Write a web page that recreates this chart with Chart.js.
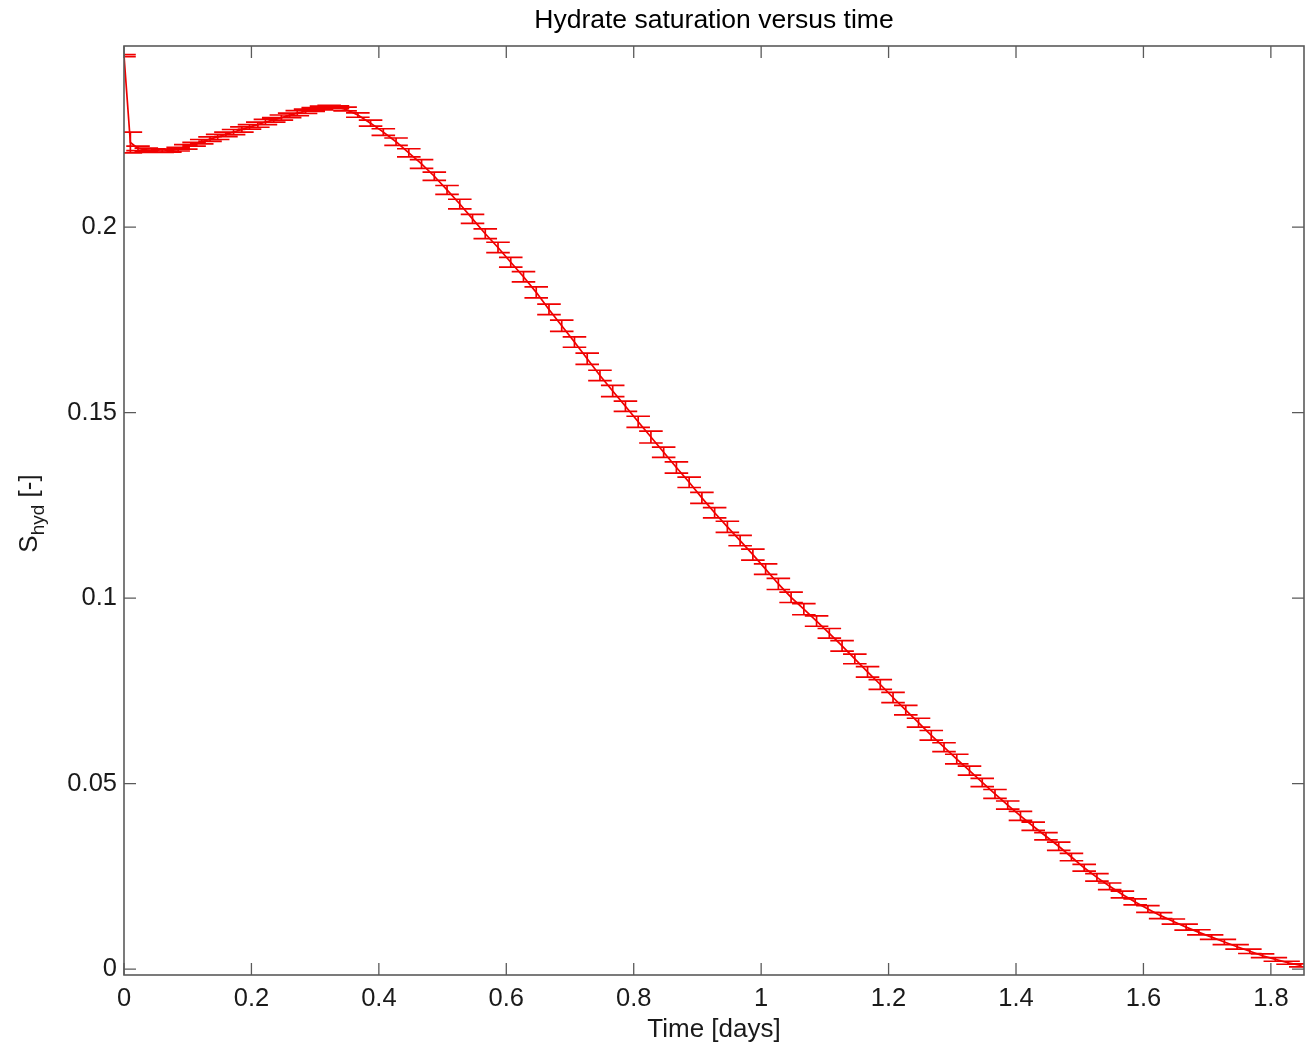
<!DOCTYPE html>
<html>
<head>
<meta charset="utf-8">
<script src="https://cdn.jsdelivr.net/npm/chart.js@4.4.1/dist/chart.umd.min.js"></script>
<style>
html,body{margin:0;padding:0;background:#ffffff;}
#c{display:block;}
</style>
</head>
<body>
<canvas id="c" width="1310" height="1053"></canvas>
<script>
// ---------------- DATA ----------------
const timeDays = [
  0.000, 0.010, 0.022, 0.035, 0.047, 0.060, 0.072, 0.085, 0.097, 0.110,
  0.122, 0.135, 0.147, 0.160, 0.172, 0.185, 0.197, 0.210, 0.222, 0.235,
  0.247, 0.260, 0.272, 0.285, 0.297, 0.310, 0.322, 0.335, 0.347,
  0.367, 0.387, 0.407, 0.427, 0.447, 0.467, 0.487, 0.507, 0.527, 0.547,
  0.567, 0.587, 0.607, 0.627, 0.647, 0.667, 0.687, 0.707, 0.727, 0.747,
  0.767, 0.787, 0.807, 0.827, 0.847, 0.867, 0.887, 0.907, 0.927, 0.947,
  0.967, 0.987, 1.007, 1.027, 1.047, 1.067, 1.087, 1.107, 1.127, 1.147,
  1.167, 1.187, 1.207, 1.227, 1.247, 1.267, 1.287, 1.307, 1.327, 1.347,
  1.367, 1.387, 1.407, 1.427, 1.447, 1.467, 1.487, 1.507, 1.527, 1.547,
  1.567, 1.587, 1.607, 1.627, 1.647, 1.667, 1.687, 1.707, 1.727, 1.747,
  1.767, 1.787, 1.807, 1.827, 1.847
];
const saturation = [
  0.2462, 0.2228, 0.2212, 0.2208, 0.2206, 0.2205, 0.2206, 0.2210, 0.2216, 0.2223,
  0.2230, 0.2237, 0.2243, 0.2250, 0.2256, 0.2263, 0.2270, 0.2276, 0.2283, 0.2289,
  0.2295, 0.2301, 0.2307, 0.2312, 0.2317, 0.2321, 0.2324, 0.2323, 0.2318,
  0.2302, 0.2280, 0.2256, 0.2230, 0.2200, 0.2170, 0.2137, 0.2100, 0.2062, 0.2022,
  0.1982, 0.1945, 0.1905, 0.1866, 0.1824, 0.1778, 0.1734, 0.1690, 0.1645, 0.1600,
  0.1558, 0.1517, 0.1475, 0.1434, 0.1393, 0.1352, 0.1312, 0.1270, 0.1230, 0.1192,
  0.1155, 0.1117, 0.1078, 0.1038, 0.1002, 0.0970, 0.0938, 0.0905, 0.0871, 0.0836,
  0.0801, 0.0767, 0.0732, 0.0698, 0.0664, 0.0630, 0.0598, 0.0566, 0.0535, 0.0503,
  0.0472, 0.0442, 0.0413, 0.0385, 0.0358, 0.0331, 0.0302, 0.0273, 0.0247, 0.0223,
  0.0201, 0.0181, 0.0162, 0.0144, 0.0128, 0.0113, 0.0099, 0.0086, 0.0073, 0.0060,
  0.0048, 0.0036, 0.0026, 0.0017, 0.0010
];
const satError = [
  0.0003, 0.0028, 0.0006, 0.0005, 0.0005, 0.0004, 0.0004, 0.0005, 0.0006, 0.0005,
  0.0006, 0.0006, 0.0007, 0.0006, 0.0007, 0.0007, 0.0006, 0.0007, 0.0007, 0.0006,
  0.0007, 0.0006, 0.0007, 0.0006, 0.0005, 0.0005, 0.0004, 0.0004, 0.0005,
  0.0006, 0.0008, 0.0009, 0.0010, 0.0011, 0.0012, 0.0011, 0.0012, 0.0013, 0.0012,
  0.0013, 0.0014, 0.0013, 0.0014, 0.0015, 0.0014, 0.0015, 0.0014, 0.0015, 0.0014,
  0.0015, 0.0014, 0.0015, 0.0016, 0.0014, 0.0015, 0.0014, 0.0015, 0.0014, 0.0015,
  0.0014, 0.0015, 0.0014, 0.0015, 0.0014, 0.0015, 0.0014, 0.0013, 0.0014, 0.0013,
  0.0014, 0.0013, 0.0014, 0.0013, 0.0012, 0.0013, 0.0012, 0.0013, 0.0012, 0.0011,
  0.0012, 0.0011, 0.0012, 0.0011, 0.0010, 0.0011, 0.0010, 0.0009, 0.0010, 0.0009,
  0.0009, 0.0008, 0.0009, 0.0008, 0.0007, 0.0008, 0.0007, 0.0006, 0.0007, 0.0006,
  0.0006, 0.0005, 0.0005, 0.0004, 0.0004
];
const xTickValues = [0, 0.2, 0.4, 0.6, 0.8, 1, 1.2, 1.4, 1.6, 1.8];
const yTickValues = [0, 0.05, 0.1, 0.15, 0.2];
const xRange = [0, 1.852];
const yRange = [-0.0016, 0.2488];
const chartTitle = 'Hydrate saturation versus time';
const xAxisTitle = 'Time [days]';
const yAxisTitleMain = 'S';
const yAxisTitleSub = 'hyd';
const yAxisTitleUnit = ' [-]';

// ---------------- STYLE ----------------
const FONT = "'Liberation Sans', Arial, Helvetica, sans-serif";
const RED = '#f00000';
const AXIS_COLOR = '#5a5a5a';
const TEXT_COLOR = '#1a1a1a';
const CAP_HALF_WIDTH = 0.0185; // errorbar cap half width in x units
const TICK_LEN = 12;

const points = timeDays.map((t, i) => ({ x: t, y: saturation[i] }));

const errorBarPlugin = {
  id: 'errorBars',
  afterDatasetsDraw(chart) {
    const { ctx, chartArea, scales } = chart;
    const xs = scales.x, ys = scales.y;
    ctx.save();
    ctx.beginPath();
    ctx.rect(chartArea.left, chartArea.top, chartArea.right - chartArea.left, chartArea.bottom - chartArea.top);
    ctx.clip();
    ctx.strokeStyle = RED;
    ctx.lineWidth = 1.7;
    ctx.beginPath();
    for (let i = 0; i < timeDays.length; i++) {
      const x = xs.getPixelForValue(timeDays[i]);
      const xl = xs.getPixelForValue(timeDays[i] - CAP_HALF_WIDTH);
      const xr = xs.getPixelForValue(timeDays[i] + CAP_HALF_WIDTH);
      const yt = ys.getPixelForValue(saturation[i] + satError[i]);
      const yb = ys.getPixelForValue(saturation[i] - satError[i]);
      ctx.moveTo(x, yt); ctx.lineTo(x, yb);
      ctx.moveTo(xl, yt); ctx.lineTo(xr, yt);
      ctx.moveTo(xl, yb); ctx.lineTo(xr, yb);
    }
    ctx.stroke();
    ctx.restore();
  }
};

const axesBoxPlugin = {
  id: 'axesBox',
  afterDraw(chart) {
    const { ctx, chartArea, scales } = chart;
    const { left, right, top, bottom } = chartArea;
    ctx.save();
    ctx.strokeStyle = AXIS_COLOR;
    ctx.lineWidth = 1.6;
    ctx.strokeRect(left, top, right - left, bottom - top);
    ctx.beginPath();
    xTickValues.forEach(v => {
      const px = scales.x.getPixelForValue(v);
      ctx.moveTo(px, bottom); ctx.lineTo(px, bottom - TICK_LEN);
      ctx.moveTo(px, top); ctx.lineTo(px, top + TICK_LEN);
    });
    yTickValues.forEach(v => {
      const py = scales.y.getPixelForValue(v);
      ctx.moveTo(left, py); ctx.lineTo(left + TICK_LEN, py);
      ctx.moveTo(right, py); ctx.lineTo(right - TICK_LEN, py);
    });
    ctx.lineWidth = 1.3;
    ctx.stroke();

    // y axis title with subscript
    const mainFont = '26px ' + FONT;
    const subFont = '19px ' + FONT;
    ctx.font = mainFont;
    const wS = ctx.measureText(yAxisTitleMain).width;
    const wU = ctx.measureText(yAxisTitleUnit).width;
    ctx.font = subFont;
    const wSub = ctx.measureText(yAxisTitleSub).width;
    const total = wS + wSub + wU;
    const cy = (top + bottom) / 2 + 3;
    ctx.translate(37, cy);
    ctx.rotate(-Math.PI / 2);
    ctx.fillStyle = TEXT_COLOR;
    ctx.textBaseline = 'alphabetic';
    ctx.textAlign = 'left';
    let xpos = -total / 2;
    ctx.font = mainFont;
    ctx.fillText(yAxisTitleMain, xpos, 0);
    xpos += wS;
    ctx.font = subFont;
    ctx.fillText(yAxisTitleSub, xpos, 7);
    xpos += wSub;
    ctx.font = mainFont;
    ctx.fillText(yAxisTitleUnit, xpos, 0);
    ctx.restore();
  }
};

new Chart(document.getElementById('c'), {
  type: 'scatter',
  data: {
    datasets: [{
      data: points,
      showLine: true,
      borderColor: RED,
      backgroundColor: RED,
      borderWidth: 1.7,
      pointRadius: 0,
      pointHoverRadius: 0,
      tension: 0
    }]
  },
  options: {
    responsive: false,
    animation: false,
    devicePixelRatio: 1,
    layout: { padding: { left: 0, right: 6, top: 0, bottom: 0 } },
    plugins: {
      legend: { display: false },
      tooltip: { enabled: false },
      title: {
        display: true,
        text: chartTitle,
        fullSize: false,
        color: '#000000',
        font: { family: FONT, size: 26.5, weight: 'normal' },
        padding: { top: 4.5, bottom: 9.7 }
      }
    },
    scales: {
      x: {
        type: 'linear',
        min: xRange[0],
        max: xRange[1],
        afterBuildTicks: s => { s.ticks = xTickValues.map(v => ({ value: v })); },
        afterFit: s => { s.height = 78; },
        grid: { display: false, drawTicks: false },
        border: { display: false },
        ticks: {
          autoSkip: false, maxRotation: 0, padding: 9,
          color: TEXT_COLOR,
          font: { family: FONT, size: 25.5 },
          callback: v => String(v)
        },
        title: {
          display: true, text: xAxisTitle, color: TEXT_COLOR,
          font: { family: FONT, size: 26 },
          padding: { top: 0, bottom: 8 }
        }
      },
      y: {
        type: 'linear',
        min: yRange[0],
        max: yRange[1],
        afterBuildTicks: s => { s.ticks = yTickValues.map(v => ({ value: v })); },
        afterFit: s => { s.width = 124; },
        grid: { display: false, drawTicks: false },
        border: { display: false },
        ticks: {
          autoSkip: false, padding: 7,
          color: TEXT_COLOR,
          font: { family: FONT, size: 25.5 },
          callback: v => String(v)
        }
      }
    }
  },
  plugins: [errorBarPlugin, axesBoxPlugin]
});
</script>
</body>
</html>
